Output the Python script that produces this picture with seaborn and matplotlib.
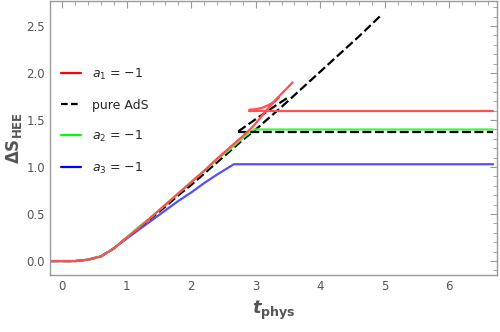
import numpy as np
import pandas as pd
import seaborn as sns
import matplotlib.pyplot as plt
from matplotlib.ticker import MultipleLocator
from matplotlib.lines import Line2D

# values
t_red = [-0.19, 0.2, 0.4, 0.6, 0.8, 1.0, 1.2, 1.4, 1.6, 1.8, 2.0, 2.2, 2.4, 2.6, 2.8, 2.97, 3.1, 3.2, 3.3, 3.4, 3.5, 3.57]
s_red = [0.0, 0.0, 0.015, 0.05, 0.135, 0.25, 0.36, 0.48, 0.60, 0.72, 0.84, 0.96, 1.09, 1.21, 1.33, 1.44, 1.55, 1.63, 1.71, 1.78, 1.85, 1.90]
t_red_br = [2.90, 3.0, 3.1, 3.2, 3.3, 3.36]
s_red_br = [1.61, 1.615, 1.63, 1.66, 1.70, 1.74]
t_red_pl = [2.90, 6.68]
s_red_pl = [1.60, 1.60]

t_ads = [-0.19, 0.2, 0.4, 0.6, 0.8, 1.0, 1.2, 1.4, 1.6, 1.8, 2.0, 2.2, 2.4, 2.6, 2.8, 3.0, 3.4, 3.8, 4.2, 4.6, 4.95]
s_ads = [0.0, 0.0, 0.015, 0.05, 0.135, 0.25, 0.36, 0.47, 0.58, 0.70, 0.81, 0.93, 1.05, 1.17, 1.29, 1.40, 1.64, 1.89, 2.14, 2.39, 2.62]
t_ads_br = [2.73, 3.0, 3.3, 3.5]
s_ads_br = [1.38, 1.51, 1.65, 1.74]
t_ads_pl = [2.73, 6.68]
s_ads_pl = [1.37, 1.37]

t_green = [-0.19, 0.2, 0.4, 0.6, 0.8, 1.0, 1.2, 1.4, 1.6, 1.8, 2.0, 2.2, 2.4, 2.6, 2.8, 2.97, 6.68]
s_green = [0.0, 0.0, 0.015, 0.05, 0.135, 0.25, 0.37, 0.48, 0.60, 0.72, 0.84, 0.96, 1.08, 1.19, 1.31, 1.40, 1.40]

t_blue = [-0.19, 0.2, 0.4, 0.6, 0.8, 1.0, 1.2, 1.4, 1.6, 1.8, 2.0, 2.2, 2.4, 2.66, 6.68]
s_blue = [0.0, 0.0, 0.015, 0.05, 0.135, 0.24, 0.34, 0.44, 0.54, 0.64, 0.73, 0.83, 0.92, 1.03, 1.03]

labels = ["$a_1$ = \u22121", "pure AdS", "$a_2$ = \u22121", "$a_3$ = \u22121"]

sns.set_style("white")
plt.rcParams['font.family'] = ['DejaVu Sans']
plt.rcParams['mathtext.fontset'] = 'dejavusans'

fig = plt.figure(figsize=(5, 3.32), dpi=100)
ax = fig.add_axes([0.1, 0.172, 0.894, 0.826])

red = '#ff5050'
green = '#4cf04c'
blue = '#5050ff'
lw = 1.6
dash = (0, (4, 1.6))

def draw(t, s, **kw):
    sns.lineplot(x=t, y=s, ax=ax, sort=False, estimator=None, **kw)

draw(t_blue, s_blue, color=blue, lw=lw)
draw(t_ads, s_ads, color='black', lw=lw, linestyle=dash)
draw(t_ads_br, s_ads_br, color='black', lw=lw, linestyle=dash)
draw(t_green, s_green, color=green, lw=lw)
draw(t_ads_pl, s_ads_pl, color='black', lw=lw, linestyle=dash)
draw(t_red, s_red, color=red, lw=lw)
draw(t_red_br, s_red_br, color=red, lw=lw)
draw(t_red_pl, s_red_pl, color=red, lw=lw)

# legend
handles = [Line2D([], [], color='red', lw=1.6),
           Line2D([], [], color='black', lw=1.6, linestyle=(0, (3, 1.5))),
           Line2D([], [], color='#00ff00', lw=1.6),
           Line2D([], [], color='blue', lw=1.6)]
ax.legend(handles, labels, loc='upper left', bbox_to_anchor=(0.0, 0.8),
          frameon=False, fontsize=9, handlelength=1.6, labelspacing=1.35,
          handletextpad=0.9)

ax.set_xlim(-0.19, 6.74)
ax.set_ylim(-0.147, 2.77)
ax.xaxis.set_major_locator(MultipleLocator(1))
ax.xaxis.set_minor_locator(MultipleLocator(0.2))
ax.yaxis.set_major_locator(MultipleLocator(0.5))
ax.yaxis.set_minor_locator(MultipleLocator(0.1))
ax.xaxis.set_major_formatter(plt.FuncFormatter(lambda v, p: f"{v:.0f}"))
ax.yaxis.set_major_formatter(plt.FuncFormatter(lambda v, p: f"{v:.1f}"))

gray = '#999999'
for sp in ax.spines.values():
    sp.set_color(gray)
    sp.set_linewidth(1.0)
ax.tick_params(which='both', direction='in', top=True, right=True,
               color=gray, labelcolor='#555555', labelsize=8.5)
ax.tick_params(which='major', length=5, width=0.8)
ax.tick_params(which='minor', length=3, width=0.6)

ax.set_xlabel(r"$\mathbfit{t}_{\mathbf{phys}}$", fontsize=13, color='#555555', labelpad=4)
ax.set_ylabel(r"$\mathbf{\Delta S}_{\mathbf{HEE}}$", fontsize=12, color='#555555', labelpad=2)

fig.savefig('out.png', dpi=100)
